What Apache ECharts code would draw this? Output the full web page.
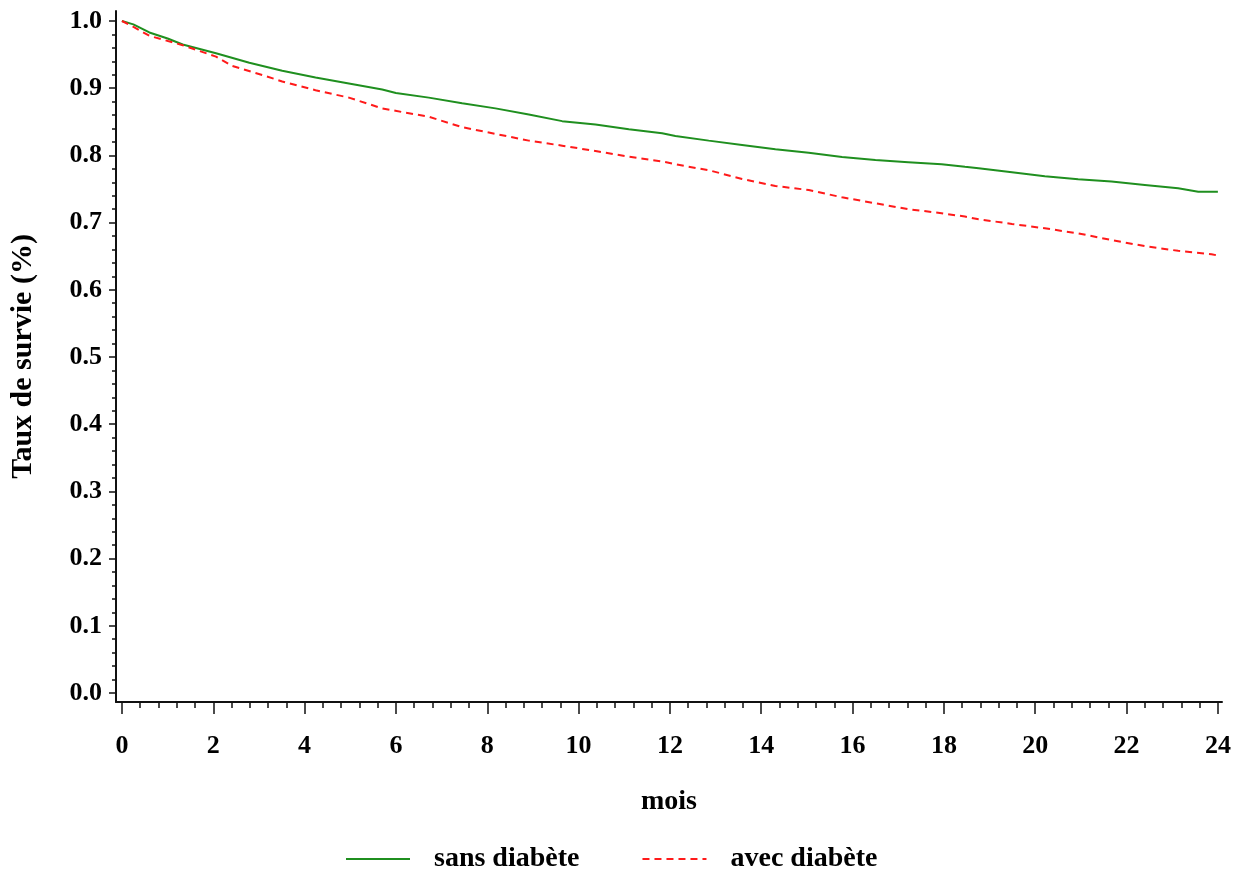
<!DOCTYPE html>
<html>
<head>
<meta charset="utf-8">
<script src="https://cdn.jsdelivr.net/npm/echarts@6/dist/echarts.min.js"></script>
<style>
html,body{margin:0;padding:0;background:#fff;}
#chart{width:1244px;height:873px;}
</style>
</head>
<body>
<div id="chart"></div>
<script>
// ---- data ----
const seriesNames = ['sans diabète', 'avec diabète'];

const monthsSans = [0, 0.25, 0.6, 1.0, 1.33, 2.06, 2.79, 3.51, 4.24, 4.97, 5.7, 6.0, 6.72, 7.45, 8.18, 8.91, 9.64, 10.37, 11.1, 11.83, 12.12, 12.85, 13.58, 14.31, 15.04, 15.77, 16.5, 17.22, 17.95, 18.46, 18.76, 19.49, 20.21, 20.94, 21.67, 22.4, 23.13, 23.57, 24.0];
const survSans   = [1.000, 0.995, 0.983, 0.974, 0.965, 0.952, 0.938, 0.926, 0.916, 0.907, 0.898, 0.893, 0.886, 0.8775, 0.870, 0.861, 0.851, 0.846, 0.839, 0.833, 0.829, 0.822, 0.8155, 0.809, 0.804, 0.7976, 0.793, 0.790, 0.7867, 0.783, 0.781, 0.775, 0.769, 0.7645, 0.761, 0.756, 0.751, 0.746, 0.746];

const monthsAvec = [0, 0.23, 0.6, 1.33, 2.06, 2.42, 3.15, 3.51, 4.24, 4.97, 5.7, 5.99, 6.21, 6.72, 7.45, 8.18, 8.91, 9.64, 10.37, 11.1, 11.83, 12.12, 12.34, 12.85, 13.58, 14.31, 15.04, 15.77, 16.5, 17.22, 17.95, 18.46, 18.76, 19.49, 20.21, 20.94, 21.67, 22.4, 23.13, 23.86, 24.0];
const survAvec   = [1.000, 0.992, 0.978, 0.964, 0.947, 0.933, 0.918, 0.910, 0.897, 0.886, 0.870, 0.8665, 0.8635, 0.8576, 0.842, 0.832, 0.822, 0.8145, 0.8065, 0.798, 0.791, 0.787, 0.784, 0.778, 0.765, 0.7545, 0.7485, 0.7376, 0.7287, 0.720, 0.714, 0.709, 0.705, 0.698, 0.6915, 0.684, 0.674, 0.665, 0.658, 0.653, 0.651];

const xTickLabels = [0, 2, 4, 6, 8, 10, 12, 14, 16, 18, 20, 22, 24];
const yTickLabels = [0.0, 0.1, 0.2, 0.3, 0.4, 0.5, 0.6, 0.7, 0.8, 0.9, 1.0];

// ---- minor tick positions (axis decoration) ----
const xMinor = [];
for (let i = 0; i <= 60; i++) xMinor.push(+(i * 0.4).toFixed(2));
const yMinor = [];
for (let i = 0; i <= 50; i++) yMinor.push(+(i * 0.02).toFixed(2));

const FONT = 'Liberation Serif';
const txt = {fontFamily: FONT, fontWeight: 'bold', color: '#000'};

const X_MIN = -0.13, X_MAX = 24.09;
const Y_MIN = -0.0134, Y_MAX = 1.0149;

const chart = echarts.init(document.getElementById('chart'), null, {renderer: 'canvas'});
chart.setOption({
  animation: false,
  backgroundColor: '#fff',
  grid: {left: 115, right: 22, top: 11, bottom: 171, containLabel: false},
  legend: {
    data: seriesNames,
    top: 840,
    left: 340,
    itemWidth: 64,
    itemHeight: 14,
    itemGap: 62,
    itemStyle: {opacity: 0},
    textStyle: Object.assign({fontSize: 28, padding: [0, 0, 0, 19]}, txt)
  },
  xAxis: [
    {
      type: 'value', min: X_MIN, max: X_MAX,
      axisLine: {show: true, onZero: false, lineStyle: {color: '#111', width: 2}},
      axisTick: {show: true, customValues: xTickLabels, length: 12, lineStyle: {color: '#111', width: 1.5}},
      axisLabel: Object.assign({customValues: xTickLabels, fontSize: 26, margin: 31}, txt),
      splitLine: {show: false},
      name: 'mois', nameLocation: 'middle', nameGap: 86,
      nameTextStyle: Object.assign({fontSize: 28}, txt)
    },
    {
      type: 'value', min: X_MIN, max: X_MAX, position: 'bottom', offset: 0,
      axisLine: {show: false, onZero: false},
      axisTick: {show: true, customValues: xMinor, length: 6, lineStyle: {color: '#111', width: 1.5}},
      axisLabel: {show: false},
      splitLine: {show: false}
    }
  ],
  yAxis: [
    {
      type: 'value', min: Y_MIN, max: Y_MAX,
      axisLine: {show: true, onZero: false, lineStyle: {color: '#111', width: 2}},
      axisTick: {show: true, customValues: yTickLabels, length: 7, lineStyle: {color: '#111', width: 1.5}},
      axisLabel: Object.assign({customValues: yTickLabels, fontSize: 26, margin: 14,
        formatter: v => Number(v).toFixed(1)}, txt),
      splitLine: {show: false},
      name: 'Taux de survie (%)', nameLocation: 'middle', nameGap: 78, nameRotate: 90,
      nameTextStyle: Object.assign({fontSize: 30}, txt)
    },
    {
      type: 'value', min: Y_MIN, max: Y_MAX, position: 'left', offset: 0,
      axisLine: {show: false, onZero: false},
      axisTick: {show: true, customValues: yMinor, length: 4, lineStyle: {color: '#111', width: 1.5}},
      axisLabel: {show: false},
      splitLine: {show: false}
    }
  ],
  series: [
    {
      name: seriesNames[0], type: 'line',
      xAxisIndex: 0, yAxisIndex: 0,
      symbol: 'none', showSymbol: false,
      data: monthsSans.map((m, i) => [m, survSans[i]]),
      itemStyle: {color: '#1f8f1f'},
      lineStyle: {color: '#1f8f1f', width: 2}
    },
    {
      name: seriesNames[1], type: 'line',
      xAxisIndex: 0, yAxisIndex: 0,
      symbol: 'none', showSymbol: false,
      data: monthsAvec.map((m, i) => [m, survAvec[i]]),
      itemStyle: {color: '#ff1a1a'},
      lineStyle: {color: '#ff1a1a', width: 2, type: [7, 5]}
    }
  ]
});
</script>
</body>
</html>
